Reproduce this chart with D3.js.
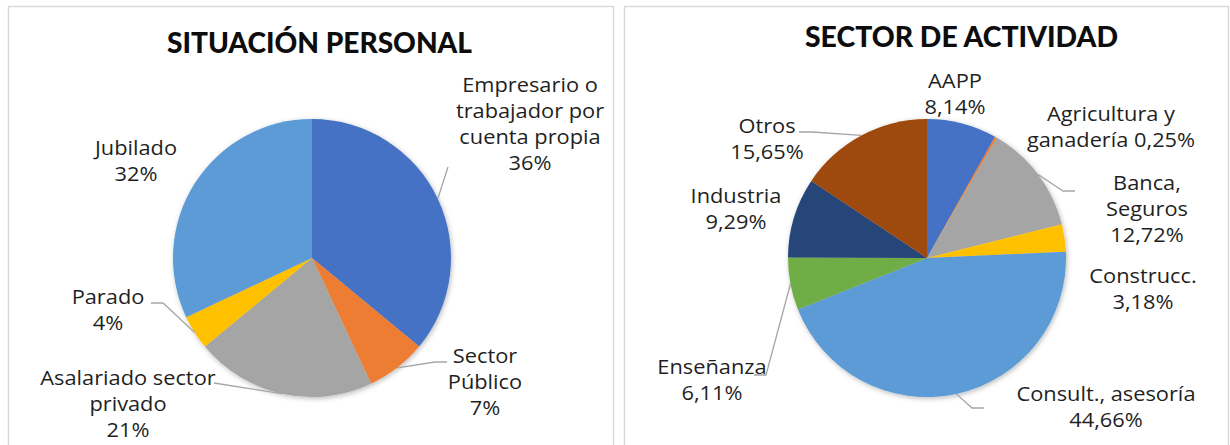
<!DOCTYPE html>
<html>
<head>
<meta charset="utf-8">
<script src="https://cdn.jsdelivr.net/npm/d3@7"></script>
<style>
  body { margin: 0; background: #fff; }
  svg { display: block; }
</style>
</head>
<body>
<script>
// Data
const personalCats = ["Empresario o\ntrabajador por\ncuenta propia", "Sector\nPúblico", "Asalariado sector\nprivado", "Parado", "Jubilado"];
const personalVals = [36, 7, 21, 4, 32];
const personalColors = ["#4472C4", "#ED7D31", "#A5A5A5", "#FFC000", "#5B9BD5"];

const sectorCats = ["AAPP", "Agricultura y\nganadería", "Banca,\nSeguros", "Construcc.", "Consult., asesoría", "Enseñanza", "Industria", "Otros"];
const sectorVals = [8.14, 0.25, 12.72, 3.18, 44.66, 6.11, 9.29, 15.65];
const sectorColors = ["#4472C4", "#ED7D31", "#A5A5A5", "#FFC000", "#5B9BD5", "#70AD47", "#264478", "#9E480E"];

// Label placement (Excel style), relative to the page.
// lx = centre x of text block, ly = centre y of first line,
// lead = [start, elbow] of leader line (null = no leader), inline = pct on last name line
const personalLabels = [
  {lx: 530, ly: 85, lead: [[448, 167], [448, 167]]},
  {lx: 485, ly: 356, lead: [[447, 362], [435, 362]]},
  {lx: 128, ly: 378, lead: [[214, 383], [214, 383]]},
  {lx: 108, ly: 297, lead: [[151, 303], [163, 303]]},
  {lx: 136, ly: 148, lead: null}
];
const sectorLabels = [
  {lx: 955, ly: 81, lead: null},
  {lx: 1111, ly: 114, lead: null, inline: true},
  {lx: 1147, ly: 183, lead: [[1075, 191], [1063, 191]]},
  {lx: 1143, ly: 276, lead: null},
  {lx: 1106, ly: 394, lead: [[984, 408], [972, 408]]},
  {lx: 712, ly: 367, lead: [[754, 375], [766, 375]]},
  {lx: 736, ly: 196, lead: null},
  {lx: 767, ly: 126, lead: [[799, 132], [812, 132]]}
];

const W = 1230, H = 445;
const radius = 139;
const lineGap = 26;
const labelSize = 20;
const labelFont = "'Open Sans', Lato, sans-serif";
const textColor = "#1f1f1f";

const svg = d3.select("body").append("svg")
  .attr("width", W)
  .attr("height", H);

// soft shadow like the office pie
const defs = svg.append("defs");
defs.append("filter")
  .attr("id", "shadow")
  .attr("x", "-20%").attr("y", "-20%")
  .attr("width", "140%").attr("height", "140%")
  .append("feDropShadow")
  .attr("dx", 1).attr("dy", 1.5)
  .attr("stdDeviation", 2.5)
  .attr("flood-color", "#000")
  .attr("flood-opacity", 0.28);

// panel frames
svg.append("rect")
  .attr("x", 8.5).attr("y", 6.5)
  .attr("width", 605).attr("height", 500)
  .attr("fill", "none").attr("stroke", "#d9d9d9").attr("stroke-width", 1.5);
svg.append("rect")
  .attr("x", 624.5).attr("y", 6.5)
  .attr("width", 604).attr("height", 500)
  .attr("fill", "none").attr("stroke", "#d9d9d9").attr("stroke-width", 1.5);

// rough width of a reference string in the Century Gothic original
const refString = "Consult., asesoría";
const refWidth = 179;
const probe = svg.append("text")
  .attr("font-family", labelFont).attr("font-size", labelSize)
  .text(refString);
const stretch = refWidth / probe.node().getComputedTextLength();
probe.remove();

function drawTitle(text, cx, baseline, width) {
  svg.append("text")
    .attr("x", cx).attr("y", baseline)
    .attr("text-anchor", "middle")
    .attr("font-family", "Lato, 'Open Sans', sans-serif")
    .attr("font-weight", 900)
    .attr("font-size", 29)
    .attr("fill", "#0d0d0d")
    .attr("textLength", width)
    .attr("lengthAdjust", "spacingAndGlyphs")
    .text(text);
}

function drawPie(cats, vals, colors, labels, cx, cy, fmt) {
  const g = svg.append("g").attr("transform", `translate(${cx},${cy})`);
  const pie = d3.pie().sort(null).value(d => d.v);
  const arcs = pie(cats.map((c, i) => ({c: c, v: vals[i], i: i})));
  const arc = d3.arc().innerRadius(0).outerRadius(radius);

  g.append("g").attr("filter", "url(#shadow)")
    .selectAll("path")
    .data(arcs)
    .join("path")
    .attr("d", arc)
    .attr("fill", d => colors[d.data.i]);

  // leader lines end on the rim at mid angle
  arcs.forEach((a, i) => {
    const lab = labels[i];
    if (!lab.lead) return;
    const mid = (a.startAngle + a.endAngle) / 2;
    const ex = cx + radius * Math.sin(mid);
    const ey = cy - radius * Math.cos(mid);
    svg.append("polyline")
      .attr("points", [lab.lead[0], lab.lead[1], [ex, ey]].map(p => p.join(",")).join(" "))
      .attr("fill", "none")
      .attr("stroke", "#a6a6a6")
      .attr("stroke-width", 1.3);
  });

  arcs.forEach((a, i) => {
    const lab = labels[i];
    let lines = a.data.c.split("\n");
    const pct = fmt(a.data.v);
    if (lab.inline) lines[lines.length - 1] += " " + pct;
    else lines.push(pct);
    const t = svg.append("text")
      .attr("font-family", labelFont)
      .attr("font-size", labelSize)
      .attr("fill", textColor)
      .attr("text-anchor", "middle");
    lines.forEach((ln, k) => {
      const ts = t.append("tspan")
        .attr("x", lab.lx)
        .attr("y", lab.ly + k * lineGap + 7)
        .text(ln);
      const w = ts.node().getComputedTextLength();
      ts.attr("textLength", w * stretch).attr("lengthAdjust", "spacingAndGlyphs");
    });
  });
}

drawTitle("SITUACIÓN PERSONAL", 319.5, 53, 305);
drawTitle("SECTOR DE ACTIVIDAD", 961.5, 47, 313);

drawPie(personalCats, personalVals, personalColors, personalLabels, 312, 258, v => `${v}%`);
drawPie(sectorCats, sectorVals, sectorColors, sectorLabels, 927, 258, v => v.toFixed(2).replace(".", ",") + "%");
</script>
</body>
</html>
